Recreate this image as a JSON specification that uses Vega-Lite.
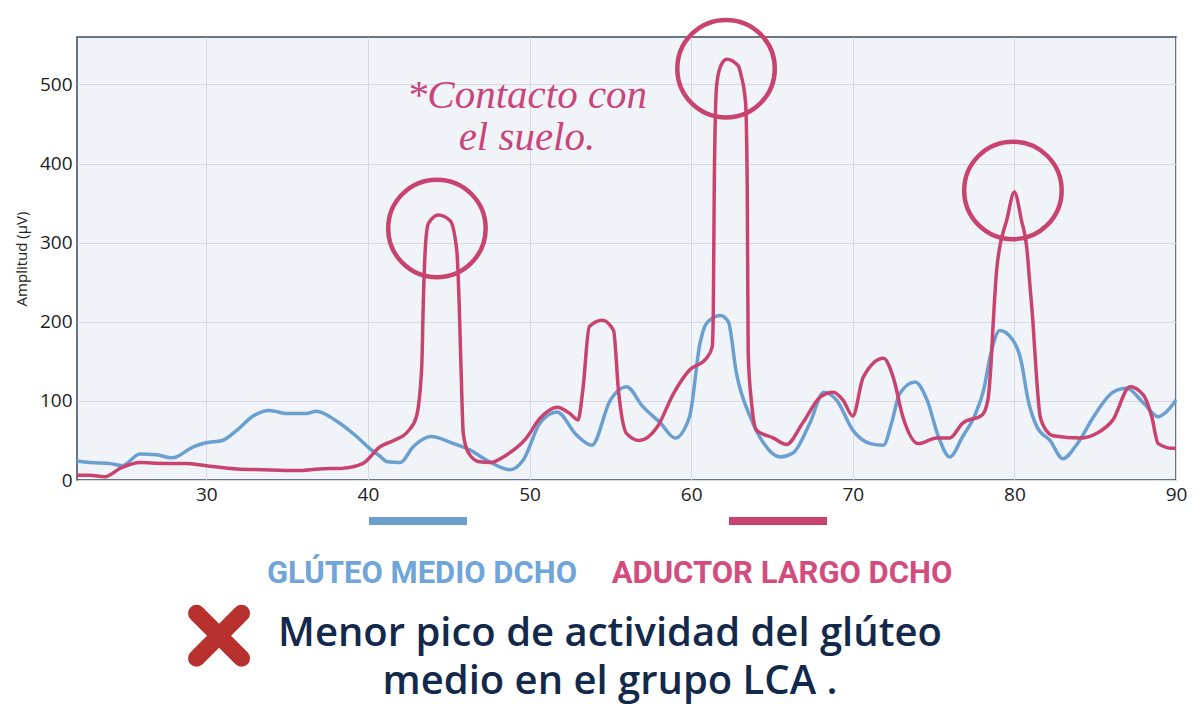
{
  "$schema": "https://vega.github.io/schema/vega-lite/v6.json",
  "width": 1099,
  "height": 443,
  "autosize": {"type": "none"},
  "padding": {"left": 77, "top": 37, "right": 24, "bottom": 231},
  "background": "white",
  "datasets": {
    "emg": [
      {"t": 22.0, "amp": 24, "serie": "GLÚTEO MEDIO DCHO"},
      {"t": 22.8, "amp": 22, "serie": "GLÚTEO MEDIO DCHO"},
      {"t": 24.0, "amp": 21, "serie": "GLÚTEO MEDIO DCHO"},
      {"t": 24.8, "amp": 18, "serie": "GLÚTEO MEDIO DCHO"},
      {"t": 25.9, "amp": 33, "serie": "GLÚTEO MEDIO DCHO"},
      {"t": 26.9, "amp": 32, "serie": "GLÚTEO MEDIO DCHO"},
      {"t": 27.9, "amp": 28, "serie": "GLÚTEO MEDIO DCHO"},
      {"t": 29.2, "amp": 42, "serie": "GLÚTEO MEDIO DCHO"},
      {"t": 30.0, "amp": 47, "serie": "GLÚTEO MEDIO DCHO"},
      {"t": 31.0, "amp": 50, "serie": "GLÚTEO MEDIO DCHO"},
      {"t": 31.9, "amp": 63, "serie": "GLÚTEO MEDIO DCHO"},
      {"t": 32.9, "amp": 81, "serie": "GLÚTEO MEDIO DCHO"},
      {"t": 33.9, "amp": 88, "serie": "GLÚTEO MEDIO DCHO"},
      {"t": 35.0, "amp": 84, "serie": "GLÚTEO MEDIO DCHO"},
      {"t": 36.2, "amp": 84, "serie": "GLÚTEO MEDIO DCHO"},
      {"t": 36.8, "amp": 87, "serie": "GLÚTEO MEDIO DCHO"},
      {"t": 38.1, "amp": 74, "serie": "GLÚTEO MEDIO DCHO"},
      {"t": 39.3, "amp": 55, "serie": "GLÚTEO MEDIO DCHO"},
      {"t": 40.1, "amp": 40, "serie": "GLÚTEO MEDIO DCHO"},
      {"t": 40.75, "amp": 30, "serie": "GLÚTEO MEDIO DCHO"},
      {"t": 41.2, "amp": 23, "serie": "GLÚTEO MEDIO DCHO"},
      {"t": 42.0, "amp": 22, "serie": "GLÚTEO MEDIO DCHO"},
      {"t": 42.8, "amp": 42, "serie": "GLÚTEO MEDIO DCHO"},
      {"t": 43.9, "amp": 55, "serie": "GLÚTEO MEDIO DCHO"},
      {"t": 45.3, "amp": 46, "serie": "GLÚTEO MEDIO DCHO"},
      {"t": 46.3, "amp": 38, "serie": "GLÚTEO MEDIO DCHO"},
      {"t": 47.35, "amp": 25, "serie": "GLÚTEO MEDIO DCHO"},
      {"t": 48.8, "amp": 13, "serie": "GLÚTEO MEDIO DCHO"},
      {"t": 49.6, "amp": 25, "serie": "GLÚTEO MEDIO DCHO"},
      {"t": 50.65, "amp": 72, "serie": "GLÚTEO MEDIO DCHO"},
      {"t": 51.7, "amp": 86, "serie": "GLÚTEO MEDIO DCHO"},
      {"t": 52.9, "amp": 57, "serie": "GLÚTEO MEDIO DCHO"},
      {"t": 53.85, "amp": 44, "serie": "GLÚTEO MEDIO DCHO"},
      {"t": 55.0, "amp": 101, "serie": "GLÚTEO MEDIO DCHO"},
      {"t": 56.0, "amp": 118, "serie": "GLÚTEO MEDIO DCHO"},
      {"t": 57.0, "amp": 93, "serie": "GLÚTEO MEDIO DCHO"},
      {"t": 58.1, "amp": 72, "serie": "GLÚTEO MEDIO DCHO"},
      {"t": 59.0, "amp": 53, "serie": "GLÚTEO MEDIO DCHO"},
      {"t": 59.9, "amp": 80, "serie": "GLÚTEO MEDIO DCHO"},
      {"t": 60.55, "amp": 173, "serie": "GLÚTEO MEDIO DCHO"},
      {"t": 60.95, "amp": 198, "serie": "GLÚTEO MEDIO DCHO"},
      {"t": 61.8, "amp": 208, "serie": "GLÚTEO MEDIO DCHO"},
      {"t": 62.3, "amp": 200, "serie": "GLÚTEO MEDIO DCHO"},
      {"t": 62.8, "amp": 135, "serie": "GLÚTEO MEDIO DCHO"},
      {"t": 63.65, "amp": 80, "serie": "GLÚTEO MEDIO DCHO"},
      {"t": 64.5, "amp": 46, "serie": "GLÚTEO MEDIO DCHO"},
      {"t": 65.5, "amp": 29, "serie": "GLÚTEO MEDIO DCHO"},
      {"t": 66.3, "amp": 34, "serie": "GLÚTEO MEDIO DCHO"},
      {"t": 67.35, "amp": 72, "serie": "GLÚTEO MEDIO DCHO"},
      {"t": 68.2, "amp": 111, "serie": "GLÚTEO MEDIO DCHO"},
      {"t": 69.0, "amp": 101, "serie": "GLÚTEO MEDIO DCHO"},
      {"t": 70.0, "amp": 63, "serie": "GLÚTEO MEDIO DCHO"},
      {"t": 71.1, "amp": 46, "serie": "GLÚTEO MEDIO DCHO"},
      {"t": 71.9, "amp": 44, "serie": "GLÚTEO MEDIO DCHO"},
      {"t": 72.4, "amp": 72, "serie": "GLÚTEO MEDIO DCHO"},
      {"t": 72.9, "amp": 109, "serie": "GLÚTEO MEDIO DCHO"},
      {"t": 73.85, "amp": 124, "serie": "GLÚTEO MEDIO DCHO"},
      {"t": 74.6, "amp": 101, "serie": "GLÚTEO MEDIO DCHO"},
      {"t": 75.3, "amp": 55, "serie": "GLÚTEO MEDIO DCHO"},
      {"t": 76.0, "amp": 29, "serie": "GLÚTEO MEDIO DCHO"},
      {"t": 76.8, "amp": 55, "serie": "GLÚTEO MEDIO DCHO"},
      {"t": 77.6, "amp": 84, "serie": "GLÚTEO MEDIO DCHO"},
      {"t": 78.1, "amp": 114, "serie": "GLÚTEO MEDIO DCHO"},
      {"t": 78.5, "amp": 156, "serie": "GLÚTEO MEDIO DCHO"},
      {"t": 79.1, "amp": 189, "serie": "GLÚTEO MEDIO DCHO"},
      {"t": 79.9, "amp": 177, "serie": "GLÚTEO MEDIO DCHO"},
      {"t": 80.4, "amp": 152, "serie": "GLÚTEO MEDIO DCHO"},
      {"t": 80.85, "amp": 101, "serie": "GLÚTEO MEDIO DCHO"},
      {"t": 81.4, "amp": 67, "serie": "GLÚTEO MEDIO DCHO"},
      {"t": 82.2, "amp": 50, "serie": "GLÚTEO MEDIO DCHO"},
      {"t": 83.0, "amp": 27, "serie": "GLÚTEO MEDIO DCHO"},
      {"t": 83.9, "amp": 46, "serie": "GLÚTEO MEDIO DCHO"},
      {"t": 84.9, "amp": 80, "serie": "GLÚTEO MEDIO DCHO"},
      {"t": 86.1, "amp": 111, "serie": "GLÚTEO MEDIO DCHO"},
      {"t": 86.95, "amp": 116, "serie": "GLÚTEO MEDIO DCHO"},
      {"t": 88.0, "amp": 97, "serie": "GLÚTEO MEDIO DCHO"},
      {"t": 88.9, "amp": 80, "serie": "GLÚTEO MEDIO DCHO"},
      {"t": 89.4, "amp": 86, "serie": "GLÚTEO MEDIO DCHO"},
      {"t": 90.0, "amp": 101, "serie": "GLÚTEO MEDIO DCHO"},
      {"t": 22.0, "amp": 6, "serie": "ADUCTOR LARGO DCHO"},
      {"t": 22.8, "amp": 6, "serie": "ADUCTOR LARGO DCHO"},
      {"t": 23.7, "amp": 4, "serie": "ADUCTOR LARGO DCHO"},
      {"t": 24.7, "amp": 15, "serie": "ADUCTOR LARGO DCHO"},
      {"t": 25.9, "amp": 22, "serie": "ADUCTOR LARGO DCHO"},
      {"t": 27.3, "amp": 21, "serie": "ADUCTOR LARGO DCHO"},
      {"t": 28.7, "amp": 21, "serie": "ADUCTOR LARGO DCHO"},
      {"t": 30.0, "amp": 18, "serie": "ADUCTOR LARGO DCHO"},
      {"t": 31.9, "amp": 14, "serie": "ADUCTOR LARGO DCHO"},
      {"t": 33.5, "amp": 13, "serie": "ADUCTOR LARGO DCHO"},
      {"t": 35.6, "amp": 12, "serie": "ADUCTOR LARGO DCHO"},
      {"t": 37.0, "amp": 14, "serie": "ADUCTOR LARGO DCHO"},
      {"t": 38.5, "amp": 15, "serie": "ADUCTOR LARGO DCHO"},
      {"t": 39.7, "amp": 21, "serie": "ADUCTOR LARGO DCHO"},
      {"t": 40.75, "amp": 42, "serie": "ADUCTOR LARGO DCHO"},
      {"t": 41.6, "amp": 50, "serie": "ADUCTOR LARGO DCHO"},
      {"t": 42.5, "amp": 62, "serie": "ADUCTOR LARGO DCHO"},
      {"t": 43.0, "amp": 80, "serie": "ADUCTOR LARGO DCHO"},
      {"t": 43.33, "amp": 143, "serie": "ADUCTOR LARGO DCHO"},
      {"t": 43.43, "amp": 227, "serie": "ADUCTOR LARGO DCHO"},
      {"t": 43.57, "amp": 299, "serie": "ADUCTOR LARGO DCHO"},
      {"t": 43.74, "amp": 324, "serie": "ADUCTOR LARGO DCHO"},
      {"t": 44.36, "amp": 335, "serie": "ADUCTOR LARGO DCHO"},
      {"t": 45.08, "amp": 328, "serie": "ADUCTOR LARGO DCHO"},
      {"t": 45.5, "amp": 290, "serie": "ADUCTOR LARGO DCHO"},
      {"t": 45.64, "amp": 227, "serie": "ADUCTOR LARGO DCHO"},
      {"t": 45.76, "amp": 143, "serie": "ADUCTOR LARGO DCHO"},
      {"t": 45.9, "amp": 59, "serie": "ADUCTOR LARGO DCHO"},
      {"t": 46.2, "amp": 35, "serie": "ADUCTOR LARGO DCHO"},
      {"t": 46.9, "amp": 23, "serie": "ADUCTOR LARGO DCHO"},
      {"t": 47.55, "amp": 22, "serie": "ADUCTOR LARGO DCHO"},
      {"t": 48.6, "amp": 32, "serie": "ADUCTOR LARGO DCHO"},
      {"t": 49.8, "amp": 53, "serie": "ADUCTOR LARGO DCHO"},
      {"t": 50.65, "amp": 78, "serie": "ADUCTOR LARGO DCHO"},
      {"t": 51.7, "amp": 92, "serie": "ADUCTOR LARGO DCHO"},
      {"t": 52.5, "amp": 84, "serie": "ADUCTOR LARGO DCHO"},
      {"t": 53.0, "amp": 76, "serie": "ADUCTOR LARGO DCHO"},
      {"t": 53.3, "amp": 114, "serie": "ADUCTOR LARGO DCHO"},
      {"t": 53.7, "amp": 194, "serie": "ADUCTOR LARGO DCHO"},
      {"t": 54.5, "amp": 202, "serie": "ADUCTOR LARGO DCHO"},
      {"t": 55.2, "amp": 189, "serie": "ADUCTOR LARGO DCHO"},
      {"t": 55.5, "amp": 114, "serie": "ADUCTOR LARGO DCHO"},
      {"t": 56.0, "amp": 59, "serie": "ADUCTOR LARGO DCHO"},
      {"t": 56.8, "amp": 50, "serie": "ADUCTOR LARGO DCHO"},
      {"t": 57.9, "amp": 67, "serie": "ADUCTOR LARGO DCHO"},
      {"t": 58.9, "amp": 109, "serie": "ADUCTOR LARGO DCHO"},
      {"t": 59.9, "amp": 139, "serie": "ADUCTOR LARGO DCHO"},
      {"t": 60.95, "amp": 154, "serie": "ADUCTOR LARGO DCHO"},
      {"t": 61.3, "amp": 168, "serie": "ADUCTOR LARGO DCHO"},
      {"t": 61.37, "amp": 210, "serie": "ADUCTOR LARGO DCHO"},
      {"t": 61.43, "amp": 371, "serie": "ADUCTOR LARGO DCHO"},
      {"t": 61.57, "amp": 497, "serie": "ADUCTOR LARGO DCHO"},
      {"t": 61.8, "amp": 522, "serie": "ADUCTOR LARGO DCHO"},
      {"t": 62.2, "amp": 532, "serie": "ADUCTOR LARGO DCHO"},
      {"t": 62.9, "amp": 524, "serie": "ADUCTOR LARGO DCHO"},
      {"t": 63.1, "amp": 511, "serie": "ADUCTOR LARGO DCHO"},
      {"t": 63.37, "amp": 476, "serie": "ADUCTOR LARGO DCHO"},
      {"t": 63.47, "amp": 371, "serie": "ADUCTOR LARGO DCHO"},
      {"t": 63.53, "amp": 160, "serie": "ADUCTOR LARGO DCHO"},
      {"t": 63.74, "amp": 97, "serie": "ADUCTOR LARGO DCHO"},
      {"t": 64.05, "amp": 63, "serie": "ADUCTOR LARGO DCHO"},
      {"t": 65.1, "amp": 53, "serie": "ADUCTOR LARGO DCHO"},
      {"t": 65.9, "amp": 45, "serie": "ADUCTOR LARGO DCHO"},
      {"t": 66.9, "amp": 72, "serie": "ADUCTOR LARGO DCHO"},
      {"t": 68.0, "amp": 105, "serie": "ADUCTOR LARGO DCHO"},
      {"t": 68.8, "amp": 111, "serie": "ADUCTOR LARGO DCHO"},
      {"t": 69.4, "amp": 101, "serie": "ADUCTOR LARGO DCHO"},
      {"t": 70.0, "amp": 81, "serie": "ADUCTOR LARGO DCHO"},
      {"t": 70.65, "amp": 130, "serie": "ADUCTOR LARGO DCHO"},
      {"t": 71.9, "amp": 154, "serie": "ADUCTOR LARGO DCHO"},
      {"t": 72.5, "amp": 130, "serie": "ADUCTOR LARGO DCHO"},
      {"t": 73.1, "amp": 80, "serie": "ADUCTOR LARGO DCHO"},
      {"t": 74.05, "amp": 46, "serie": "ADUCTOR LARGO DCHO"},
      {"t": 75.2, "amp": 53, "serie": "ADUCTOR LARGO DCHO"},
      {"t": 76.0, "amp": 53, "serie": "ADUCTOR LARGO DCHO"},
      {"t": 76.8, "amp": 72, "serie": "ADUCTOR LARGO DCHO"},
      {"t": 78.0, "amp": 82, "serie": "ADUCTOR LARGO DCHO"},
      {"t": 78.35, "amp": 100, "serie": "ADUCTOR LARGO DCHO"},
      {"t": 78.53, "amp": 139, "serie": "ADUCTOR LARGO DCHO"},
      {"t": 78.7, "amp": 202, "serie": "ADUCTOR LARGO DCHO"},
      {"t": 78.9, "amp": 265, "serie": "ADUCTOR LARGO DCHO"},
      {"t": 79.1, "amp": 295, "serie": "ADUCTOR LARGO DCHO"},
      {"t": 79.52, "amp": 328, "serie": "ADUCTOR LARGO DCHO"},
      {"t": 80.0, "amp": 364, "serie": "ADUCTOR LARGO DCHO"},
      {"t": 80.44, "amp": 328, "serie": "ADUCTOR LARGO DCHO"},
      {"t": 80.76, "amp": 295, "serie": "ADUCTOR LARGO DCHO"},
      {"t": 80.97, "amp": 244, "serie": "ADUCTOR LARGO DCHO"},
      {"t": 81.14, "amp": 202, "serie": "ADUCTOR LARGO DCHO"},
      {"t": 81.34, "amp": 139, "serie": "ADUCTOR LARGO DCHO"},
      {"t": 81.6, "amp": 80, "serie": "ADUCTOR LARGO DCHO"},
      {"t": 82.0, "amp": 62, "serie": "ADUCTOR LARGO DCHO"},
      {"t": 82.4, "amp": 56, "serie": "ADUCTOR LARGO DCHO"},
      {"t": 84.1, "amp": 53, "serie": "ADUCTOR LARGO DCHO"},
      {"t": 85.1, "amp": 59, "serie": "ADUCTOR LARGO DCHO"},
      {"t": 86.1, "amp": 76, "serie": "ADUCTOR LARGO DCHO"},
      {"t": 87.15, "amp": 118, "serie": "ADUCTOR LARGO DCHO"},
      {"t": 88.0, "amp": 107, "serie": "ADUCTOR LARGO DCHO"},
      {"t": 88.5, "amp": 80, "serie": "ADUCTOR LARGO DCHO"},
      {"t": 88.9, "amp": 46, "serie": "ADUCTOR LARGO DCHO"},
      {"t": 89.8, "amp": 40, "serie": "ADUCTOR LARGO DCHO"},
      {"t": 90.0, "amp": 40, "serie": "ADUCTOR LARGO DCHO"}
    ],
    "picos": [
      {"t": 44.27, "amp": 318},
      {"t": 62.16, "amp": 520},
      {"t": 79.91, "amp": 366}
    ],
    "nota": [
      {"t": 49.84, "amp": 470, "texto": "*Contacto con\nel suelo."}
    ],
    "conclusion": [
      {"t": 30.79, "amp": -197}
    ],
    "pie": [
      {"t": 54.98, "amp": -210, "texto": "Menor pico de actividad del glúteo\nmedio en el grupo LCA ."}
    ]
  },
  "layer": [
    {
      "data": {"name": "emg"},
      "mark": {"type": "line", "interpolate": "monotone", "strokeWidth": 3.5},
      "encoding": {
        "x": {
          "field": "t",
          "type": "quantitative",
          "scale": {"domain": [22, 90], "nice": false, "zero": false},
          "axis": {
            "values": [30, 40, 50, 60, 70, 80, 90],
            "title": null,
            "labelFlush": false,
            "labelPadding": 5
          }
        },
        "y": {
          "field": "amp",
          "type": "quantitative",
          "scale": {"domain": [0, 560], "nice": false},
          "axis": {
            "values": [0, 100, 200, 300, 400, 500],
            "title": "Amplitud (μV)",
            "titleFontSize": 15,
            "titleFontWeight": "normal",
            "titlePadding": 10,
            "labelFlush": false,
            "labelPadding": 5
          }
        },
        "color": {
          "field": "serie",
          "type": "nominal",
          "sort": ["GLÚTEO MEDIO DCHO", "ADUCTOR LARGO DCHO"],
          "scale": {
            "domain": ["GLÚTEO MEDIO DCHO", "ADUCTOR LARGO DCHO"],
            "range": ["#6a9fd0", "#c9436f"]
          },
          "legend": {
            "orient": "none",
            "legendX": 288,
            "legendY": 479,
            "direction": "horizontal",
            "title": null,
            "symbolType": "stroke",
            "symbolSize": 9604,
            "symbolStrokeWidth": 8,
            "clipHeight": 10,
            "labelFont": "Roboto",
            "labelFontSize": 31,
            "labelFontWeight": "bold",
            "labelAlign": "center",
            "labelBaseline": "alphabetic",
            "labelOffset": -49,
            "labelLimit": 0,
            "columnPadding": 33,
            "encode": {
              "labels": {
                "update": {
                  "dy": {"value": 62},
                  "fill": {"signal": "datum.value === 'GLÚTEO MEDIO DCHO' ? '#6fa5d8' : '#d34c7e'"}
                }
              }
            }
          }
        }
      }
    },
    {
      "data": {"name": "picos"},
      "mark": {"type": "point", "shape": "circle", "filled": false, "size": 9500, "strokeWidth": 4.5, "color": "#c9436f", "opacity": 1},
      "encoding": {
        "x": {"field": "t", "type": "quantitative"},
        "y": {"field": "amp", "type": "quantitative"}
      }
    },
    {
      "data": {"name": "nota"},
      "mark": {
        "type": "text",
        "lineBreak": "\n",
        "font": "Liberation Serif",
        "fontStyle": "italic",
        "fontSize": 41,
        "lineHeight": 42,
        "align": "center",
        "baseline": "alphabetic",
        "color": "#c9457a"
      },
      "encoding": {
        "x": {"field": "t", "type": "quantitative"},
        "y": {"field": "amp", "type": "quantitative"},
        "text": {"field": "texto"}
      }
    },
    {
      "data": {"name": "conclusion"},
      "mark": {
        "type": "point",
        "shape": "M-1,-1L1,1M1,-1L-1,1",
        "filled": false,
        "size": 2025,
        "strokeWidth": 17,
        "strokeCap": "round",
        "color": "#b8312f",
        "opacity": 1
      },
      "encoding": {
        "x": {"field": "t", "type": "quantitative"},
        "y": {"field": "amp", "type": "quantitative"}
      }
    },
    {
      "data": {"name": "pie"},
      "mark": {
        "type": "text",
        "lineBreak": "\n",
        "font": "Open Sans",
        "fontWeight": 600,
        "fontSize": 40,
        "lineHeight": 48,
        "align": "center",
        "baseline": "alphabetic",
        "color": "#13294b"
      },
      "encoding": {
        "x": {"field": "t", "type": "quantitative"},
        "y": {"field": "amp", "type": "quantitative"},
        "text": {"field": "texto"}
      }
    }
  ],
  "config": {
    "font": "Open Sans",
    "view": {"fill": "#f0f4f9", "stroke": "#3b4a5a", "strokeWidth": 1.5},
    "axis": {
      "grid": true,
      "gridColor": "#d5dae1",
      "gridWidth": 1,
      "domain": false,
      "ticks": false,
      "labelFont": "Open Sans",
      "labelFontSize": 19,
      "labelColor": "#222222",
      "titleFont": "Open Sans",
      "titleColor": "#222222"
    }
  }
}
